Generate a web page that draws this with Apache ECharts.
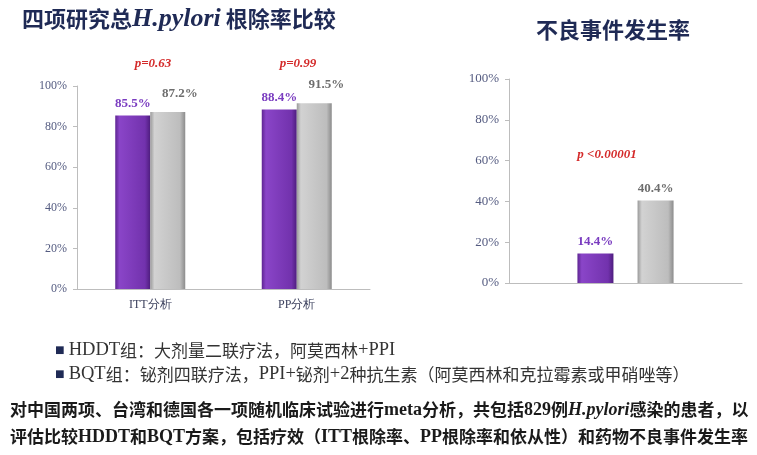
<!DOCTYPE html>
<html><head><meta charset="utf-8">
<script src="https://cdn.jsdelivr.net/npm/echarts@6/dist/echarts.min.js"></script>
<style>html,body{margin:0;padding:0;background:#fff}#c{width:757px;height:455px}</style>
</head><body><div id="c"></div>
<script>
// ---- data ----
const effCategories = ['ITT分析', 'PP分析'];
const effHDDT = [85.5, 88.4];
const effBQT = [87.2, 91.5];
const effPValues = ['p=0.63', 'p=0.99'];
const aeCategories = [''];
const aeHDDT = [14.4];
const aeBQT = [40.4];
const aePValue = 'p <0.00001';
const yTicks = [0, 20, 40, 60, 80, 100];

const serif = '"Liberation Serif","DejaVu Serif",serif';
const cjk = '"Noto Sans CJK SC",sans-serif';
const purpleGrad = {type:'linear',x:0,y:0,x2:1,y2:0,colorStops:[{offset:0,color:'#5e2592'},{offset:0.12,color:'#8a45c8'},{offset:0.85,color:'#7232ad'},{offset:1,color:'#4e1d7e'}]};
const grayGrad = {type:'linear',x:0,y:0,x2:1,y2:0,colorStops:[{offset:0,color:'#9a9a9a'},{offset:0.12,color:'#d2d2d2'},{offset:0.85,color:'#bdbdbd'},{offset:1,color:'#8c8c8c'}]};

function yAxis(gi, fs){
  return {type:'value', gridIndex:gi, min:yTicks[0], max:yTicks[yTicks.length-1], interval:yTicks[1]-yTicks[0],
    axisLine:{show:true,lineStyle:{color:'#bdbdbd'}},
    axisTick:{show:true,length:4,lineStyle:{color:'#bdbdbd'}},
    splitLine:{show:false},
    axisLabel:{formatter:'{value}%', fontFamily:serif, fontSize:fs, color:'#545b80', margin:10}};
}

const chart = echarts.init(document.getElementById('c'));
chart.setOption({
  animation:false,
  backgroundColor:'#ffffff',
  grid:[
    {left:77, right:387, top:86, bottom:166},
    {left:509, right:15, top:79, bottom:172}
  ],
  xAxis:[
    {type:'category', gridIndex:0, data:effCategories,
      axisLine:{lineStyle:{color:'#bdbdbd'}}, axisTick:{show:false},
      axisLabel:{fontFamily:serif, fontSize:12, color:'#3a3f5c', margin:10}},
    {type:'category', gridIndex:1, data:aeCategories,
      axisLine:{lineStyle:{color:'#bdbdbd'}}, axisTick:{show:false}, axisLabel:{show:false}}
  ],
  yAxis:[yAxis(0, 12), yAxis(1, 13)],
  series:[
    {type:'bar', name:'HDDT', xAxisIndex:0, yAxisIndex:0, data:effHDDT, barWidth:35, barGap:'0%',
      itemStyle:{color:purpleGrad},
      label:{show:true, position:'top', distance:5, formatter:'{c}%', fontFamily:serif, fontWeight:'bold', fontSize:13, color:'#7a3cc0'}},
    {type:'bar', name:'BQT', xAxisIndex:0, yAxisIndex:0, data:effBQT, barWidth:35, barGap:'0%',
      itemStyle:{color:grayGrad},
      label:{show:true, position:'top', distance:5, offset:[12,-7], formatter:'{c}%', fontFamily:serif, fontWeight:'bold', fontSize:13, color:'#6e6e6e'}},
    {type:'bar', name:'HDDT', xAxisIndex:1, yAxisIndex:1, data:aeHDDT, barWidth:36, barGap:'67%',
      itemStyle:{color:purpleGrad},
      label:{show:true, position:'top', distance:5, formatter:'{c}%', fontFamily:serif, fontWeight:'bold', fontSize:13, color:'#7a3cc0'}},
    {type:'bar', name:'BQT', xAxisIndex:1, yAxisIndex:1, data:aeBQT, barWidth:36, barGap:'67%',
      itemStyle:{color:grayGrad},
      label:{show:true, position:'top', distance:5, formatter:'{c}%', fontFamily:serif, fontWeight:'bold', fontSize:13, color:'#6e6e6e'}}
  ],
  graphic:[
    {type:'text', left:22, top:6, style:{
      text:'{a|四项研究总}{b|H.pylori}{a| 根除率比较}',
      rich:{a:{fontFamily:cjk, fontSize:22, fontWeight:'bold', fill:'#1f2a55'},
            b:{fontFamily:serif, fontSize:26, fontWeight:'bold', fontStyle:'italic', fill:'#1f2a55'}}}},
    {type:'text', left:536, top:19, style:{text:'不良事件发生率', fontFamily:cjk, fontSize:22, fontWeight:'bold', fill:'#1f2a55'}},
    {type:'text', x:153, y:64, style:{text:effPValues[0], align:'center', verticalAlign:'middle', fontFamily:serif, fontSize:13, fontWeight:'bold', fontStyle:'italic', fill:'#d42a2a'}},
    {type:'text', x:298, y:64, style:{text:effPValues[1], align:'center', verticalAlign:'middle', fontFamily:serif, fontSize:13, fontWeight:'bold', fontStyle:'italic', fill:'#d42a2a'}},
    {type:'text', x:607, y:155, style:{text:aePValue, align:'center', verticalAlign:'middle', fontFamily:serif, fontSize:13, fontWeight:'bold', fontStyle:'italic', fill:'#d42a2a'}},
    {type:'text', left:55, top:341, style:{
      text:'{s|■ }{l|HDDT}{c|组：大剂量二联疗法，阿莫西林}{l|+PPI}',
      rich:{s:{fontFamily:serif,fontSize:16,fill:'#1f2a55'}, l:{fontFamily:serif,fontSize:18.5,fill:'#333'}, c:{fontFamily:cjk,fontSize:17,fill:'#333'}}}},
    {type:'text', left:55, top:365, style:{
      text:'{s|■ }{l|BQT}{c|组：铋剂四联疗法，}{l|PPI+}{c|铋剂}{l|+2}{c|种抗生素（阿莫西林和克拉霉素或甲硝唑等）}',
      rich:{s:{fontFamily:serif,fontSize:16,fill:'#1f2a55'}, l:{fontFamily:serif,fontSize:18.5,fill:'#333'}, c:{fontFamily:cjk,fontSize:17,fill:'#333'}}}},
    {type:'text', left:10, top:401, style:{
      text:'{c|对中国两项、台湾和德国各一项随机临床试验进行}{l|meta}{c|分析，共包括}{l|829}{c|例}{i|H.pylori}{c|感染的患者，以}',
      rich:{c:{fontFamily:cjk,fontSize:17,fontWeight:'bold',fill:'#1a1a1a'}, l:{fontFamily:serif,fontSize:18,fontWeight:'bold',fill:'#1a1a1a'}, i:{fontFamily:serif,fontSize:18,fontWeight:'bold',fontStyle:'italic',fill:'#1a1a1a'}}}},
    {type:'text', left:10, top:428, style:{
      text:'{c|评估比较}{l|HDDT}{c|和}{l|BQT}{c|方案，包括疗效（}{l|ITT}{c|根除率、}{l|PP}{c|根除率和依从性）和药物不良事件发生率}',
      rich:{c:{fontFamily:cjk,fontSize:17,fontWeight:'bold',fill:'#1a1a1a'}, l:{fontFamily:serif,fontSize:18,fontWeight:'bold',fill:'#1a1a1a'}}}}
  ]
});
</script></body></html>
